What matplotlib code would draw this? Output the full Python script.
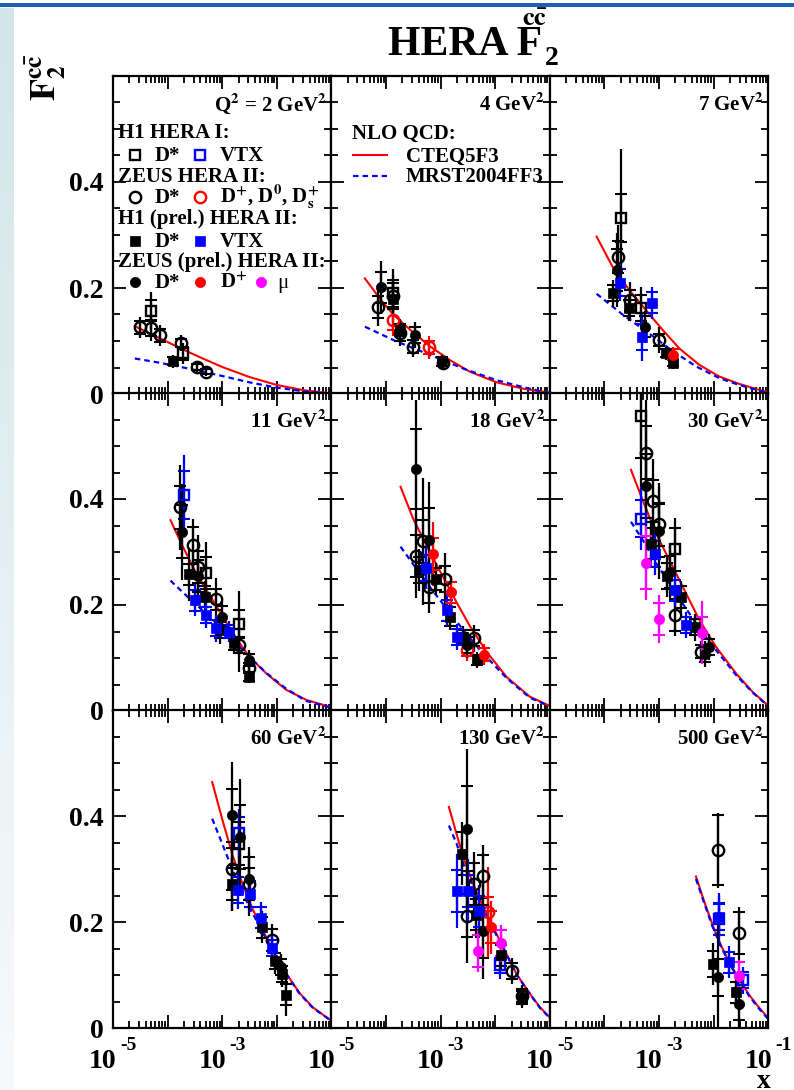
import numpy as np
import matplotlib
matplotlib.use("Agg")
import matplotlib.pyplot as plt
from matplotlib.ticker import MultipleLocator, FixedLocator, NullFormatter, FixedFormatter
from matplotlib.colors import LinearSegmentedColormap
from matplotlib.patches import Rectangle

plt.rcParams['mathtext.fontset'] = 'stix'
plt.rcParams['font.family'] = 'Liberation Serif'
plt.rcParams['font.weight'] = 'bold'

# ---------------- data ----------------
q2_bins = [2, 4, 7, 11, 18, 30, 60, 130, 500]

# H1 HERA I, D* (open black squares)
h1_dstar_q2 = [2, 2, 4, 7, 7, 11, 11, 30, 30, 60]
h1_dstar_x = [5.0e-5, 1.95e-4, 1.35e-4, 1.98e-4, 4.7e-4, 5.1e-4, 2.0e-3, 4.74e-4, 2.0e-3, 2.07e-3]
h1_dstar_f2 = [0.157, 0.077, 0.190, 0.332, 0.162, 0.260, 0.164, 0.557, 0.305, 0.348]
h1_dstar_stat = [0.020, 0.012, 0.025, 0.045, 0.025, 0.030, 0.026, 0.080, 0.040, 0.040]
h1_dstar_tot = [0.035, 0.020, 0.035, 0.130, 0.040, 0.058, 0.063, 0.150, 0.060, 0.060]

# H1 HERA I, VTX (open blue squares)
h1_vtx_q2 = [11, 30, 60, 130, 500, 500]
h1_vtx_x = [2.0e-4, 4.74e-4, 2.07e-3, 1.23e-2, 1.27e-2, 3.4e-2]
h1_vtx_f2 = [0.408, 0.363, 0.368, 0.118, 0.205, 0.090]
h1_vtx_stat = [0.045, 0.035, 0.030, 0.015, 0.030, 0.015]
h1_vtx_tot = [0.075, 0.060, 0.045, 0.025, 0.050, 0.025]

# ZEUS HERA II, D* (open black circles)
zeus_dstar_q2 = [2, 2, 2, 2, 2, 2, 4, 4, 4, 4, 4, 7, 7, 7,
                 11, 11, 11, 11, 11, 11, 18, 18, 18, 18, 18,
                 30, 30, 30, 30, 30, 60, 60, 60, 130, 130, 130, 130, 130, 500, 500]
zeus_dstar_x = [3.1e-5, 5.0e-5, 7.2e-5, 1.74e-4, 3.4e-4, 5.0e-4,
                7.2e-5, 1.35e-4, 1.8e-4, 3.1e-4, 1.1e-3,
                1.78e-4, 2.9e-4, 1.02e-3,
                1.72e-4, 2.98e-4, 3.57e-4, 7.8e-4, 2.0e-3, 3.1e-3,
                3.53e-4, 4.8e-4, 6.2e-4, 1.2e-3, 4.1e-3,
                5.8e-4, 7.9e-4, 1.01e-3, 2.0e-3, 5.9e-3,
                1.52e-3, 3.1e-3, 8.2e-3,
                2.99e-3, 4.1e-3, 6.0e-3, 2.02e-2, 3.04e-2,
                1.19e-2, 2.88e-2]
zeus_dstar_f2 = [0.126, 0.125, 0.111, 0.096, 0.051, 0.042,
                 0.164, 0.185, 0.115, 0.089, 0.058,
                 0.258, 0.177, 0.102,
                 0.384, 0.313, 0.272, 0.211, 0.124, 0.081,
                 0.293, 0.320, 0.234, 0.249, 0.137,
                 0.487, 0.396, 0.352, 0.181, 0.112,
                 0.300, 0.272, 0.166,
                 0.212, 0.272, 0.286, 0.108, 0.061,
                 0.335, 0.179]
zeus_dstar_stat = [0.012, 0.015, 0.012, 0.008, 0.006, 0.005,
                   0.020, 0.025, 0.015, 0.012, 0.006,
                   0.030, 0.020, 0.012,
                   0.040, 0.035, 0.030, 0.020, 0.015, 0.010,
                   0.040, 0.040, 0.030, 0.025, 0.015,
                   0.050, 0.040, 0.040, 0.030, 0.012,
                   0.040, 0.030, 0.020,
                   0.040, 0.040, 0.040, 0.015, 0.012,
                   0.066, 0.040]
zeus_dstar_tot = [0.020, 0.025, 0.020, 0.015, 0.010, 0.008,
                  0.035, 0.050, 0.025, 0.020, 0.010,
                  0.060, 0.035, 0.025,
                  0.080, 0.050, 0.060, 0.040, 0.050, 0.020,
                  0.080, 0.120, 0.050, 0.050, 0.025,
                  0.100, 0.080, 0.070, 0.040, 0.020,
                  0.080, 0.060, 0.030,
                  0.090, 0.060, 0.060, 0.025, 0.020,
                  0.070, 0.050]

# ZEUS HERA II, D+, D0, Ds (open red circles)
zeus_dmes_q2 = [4, 4, 18, 130]
zeus_dmes_x = [1.32e-4, 6.2e-4, 3.0e-3, 7.4e-3]
zeus_dmes_f2 = [0.140, 0.088, 0.115, 0.218]
zeus_dmes_stat = [0.020, 0.012, 0.012, 0.030]
zeus_dmes_tot = [0.030, 0.022, 0.020, 0.085]

# H1 (prel.) HERA II, D* (filled black squares)
h1p_dstar_q2 = [2, 4, 4, 7, 7, 7, 7, 11, 11, 11, 11, 11, 18, 18, 18, 18, 18,
                30, 30, 30, 30, 60, 60, 60, 60, 60, 130, 130, 130, 500, 500]
h1p_dstar_x = [1.23e-4, 1.35e-4, 1.8e-4, 1.46e-4, 2.86e-4, 1.35e-3, 1.78e-3,
               2.45e-4, 4.9e-4, 9.2e-4, 1.62e-3, 3.1e-3,
               4.07e-4, 8.2e-4, 1.51e-3, 2.6e-3, 4.57e-3,
               7.1e-4, 1.4e-3, 2.5e-3, 4.5e-3,
               1.5e-3, 5.4e-3, 9.1e-3, 1.22e-2, 1.49e-2,
               2.42e-3, 4.4e-3, 1.26e-2, 9.9e-3, 2.57e-2]
h1p_dstar_f2 = [0.062, 0.180, 0.121, 0.190, 0.162, 0.077, 0.058,
                0.258, 0.216, 0.152, 0.128, 0.065,
                0.266, 0.249, 0.178, 0.140, 0.096,
                0.316, 0.255, 0.215, 0.158,
                0.271, 0.190, 0.127, 0.102, 0.063,
                0.329, 0.214, 0.137, 0.121, 0.067]
h1p_dstar_stat = [0.008, 0.020, 0.012, 0.015, 0.015, 0.008, 0.006,
                  0.020, 0.020, 0.015, 0.012, 0.008,
                  0.025, 0.020, 0.018, 0.012, 0.010,
                  0.030, 0.025, 0.020, 0.015,
                  0.030, 0.020, 0.015, 0.015, 0.020,
                  0.040, 0.030, 0.020, 0.025, 0.020]
h1p_dstar_tot = [0.012, 0.030, 0.020, 0.025, 0.025, 0.012, 0.010,
                 0.050, 0.030, 0.025, 0.020, 0.012,
                 0.040, 0.030, 0.025, 0.020, 0.015,
                 0.045, 0.040, 0.030, 0.025,
                 0.050, 0.030, 0.025, 0.025, 0.040,
                 0.060, 0.045, 0.030, 0.040, 0.030]

# H1 (prel.) HERA II, VTX (filled blue squares)
h1p_vtx_q2 = [7, 7, 7, 11, 11, 11, 11, 18, 18, 18, 30, 30, 30,
              60, 60, 60, 60, 130, 130, 130, 500, 500]
h1p_vtx_x = [1.95e-4, 4.9e-4, 7.6e-4, 3.2e-4, 5.1e-4, 7.6e-4, 1.32e-3,
             5.5e-4, 1.29e-3, 1.96e-3, 8.6e-4, 2.0e-3, 3.1e-3,
             1.93e-3, 3.2e-3, 5.1e-3, 8.2e-3, 1.96e-3, 3.2e-3, 5.0e-3,
             1.27e-2, 1.94e-2]
h1p_vtx_f2 = [0.210, 0.108, 0.172, 0.209, 0.181, 0.156, 0.150,
              0.270, 0.190, 0.140, 0.296, 0.228, 0.162,
              0.260, 0.253, 0.208, 0.151, 0.259, 0.259, 0.220,
              0.209, 0.124]
h1p_vtx_stat = [0.025, 0.025, 0.020, 0.020, 0.015, 0.015, 0.012,
                0.025, 0.020, 0.015, 0.025, 0.020, 0.015,
                0.025, 0.025, 0.020, 0.015, 0.040, 0.030, 0.030,
                0.025, 0.020]
h1p_vtx_tot = [0.035, 0.045, 0.030, 0.030, 0.025, 0.025, 0.020,
               0.040, 0.030, 0.025, 0.040, 0.030, 0.025,
               0.035, 0.035, 0.030, 0.025, 0.070, 0.060, 0.050,
               0.040, 0.030]

# ZEUS (prel.) HERA II, D* (filled black circles)
zeusp_dstar_q2 = [4, 4, 4, 7, 7, 11, 11, 11, 11, 18, 18, 18,
                  30, 30, 30, 30, 30, 60, 60, 60, 60, 130, 130, 130, 500, 500]
zeusp_dstar_x = [7.96e-5, 3.4e-4, 1.05e-3, 1.7e-4, 5.6e-4,
                 1.8e-4, 3.57e-4, 1.0e-3, 3.1e-3,
                 3.53e-4, 6.2e-4, 3.0e-3,
                 5.8e-4, 1.0e-3, 1.58e-3, 7.0e-3, 8.1e-3,
                 1.52e-3, 2.1e-3, 3.1e-3, 1.2e-2,
                 2.99e-3, 6.0e-3, 3.04e-2, 1.19e-2, 2.88e-2]
zeusp_dstar_f2 = [0.201, 0.111, 0.061, 0.234, 0.127,
                  0.338, 0.255, 0.178, 0.096,
                  0.457, 0.323, 0.125,
                  0.425, 0.340, 0.263, 0.108, 0.121,
                  0.401, 0.360, 0.282, 0.115,
                  0.376, 0.183, 0.058, 0.096, 0.046]
zeusp_dstar_stat = [0.030, 0.015, 0.008, 0.040, 0.020,
                    0.050, 0.030, 0.020, 0.012,
                    0.075, 0.060, 0.015,
                    0.060, 0.050, 0.030, 0.015, 0.015,
                    0.050, 0.060, 0.040, 0.015,
                    0.080, 0.050, 0.012, 0.035, 0.030]
zeusp_dstar_tot = [0.050, 0.025, 0.012, 0.070, 0.030,
                   0.090, 0.050, 0.030, 0.020,
                   0.130, 0.110, 0.025,
                   0.110, 0.090, 0.050, 0.025, 0.025,
                   0.100, 0.110, 0.060, 0.025,
                   0.150, 0.090, 0.020, 0.120, 0.060]

# ZEUS (prel.) HERA II, D+ (filled red circles)
zeusp_dplus_q2 = [7, 18, 18, 18, 130]
zeusp_dplus_x = [1.78e-3, 7.3e-4, 1.58e-3, 6.2e-3, 8.3e-3]
zeusp_dplus_f2 = [0.074, 0.296, 0.224, 0.106, 0.190]
zeusp_dplus_stat = [0.010, 0.030, 0.020, 0.012, 0.030]
zeusp_dplus_tot = [0.015, 0.060, 0.030, 0.020, 0.050]

# ZEUS (prel.) HERA II, muons (filled magenta circles)
zeusp_mu_q2 = [30, 30, 30, 130, 130, 500]
zeusp_mu_x = [5.75e-4, 9.8e-4, 6.2e-3, 4.9e-3, 1.26e-2, 2.88e-2]
zeusp_mu_f2 = [0.280, 0.173, 0.148, 0.145, 0.160, 0.099]
zeusp_mu_stat = [0.050, 0.030, 0.030, 0.030, 0.025, 0.025]
zeusp_mu_tot = [0.070, 0.045, 0.060, 0.040, 0.035, 0.030]

# NLO QCD predictions, read per Q2 bin: log10(x) and F2
cteq_logx = [
    [-4.60, -4.20, -3.80, -3.40, -3.00, -2.50, -2.00, -1.50, -1.00],
    [-4.386, -4.112, -3.868, -3.50, -3.196, -2.83, -2.463, -1.974, -1.49, -1.03],
    [-4.143, -3.85, -3.544, -3.238, -2.934, -2.628, -2.262, -1.896, -1.53, -1.04],
    [-3.947, -3.721, -3.477, -3.233, -2.989, -2.744, -2.50, -2.194, -1.828, -1.462, -1.035],
    [-3.733, -3.50, -3.196, -2.95, -2.707, -2.463, -2.16, -1.79, -1.365, -1.03],
    [-3.513, -3.30, -3.055, -2.811, -2.568, -2.262, -1.956, -1.59, -1.286, -1.01],
    [-3.183, -2.989, -2.806, -2.623, -2.44, -2.256, -2.073, -1.828, -1.584, -1.34, -1.035],
    [-2.848, -2.707, -2.586, -2.403, -2.22, -2.037, -1.853, -1.61, -1.365, -1.18, -1.0],
    [-2.323, -2.17, -2.018, -1.865, -1.713, -1.53, -1.346, -1.163, -1.01],
]
cteq_f2 = [
    [0.128, 0.108, 0.088, 0.069, 0.051, 0.032, 0.017, 0.007, 0.001],
    [0.218, 0.180, 0.150, 0.116, 0.090, 0.064, 0.042, 0.022, 0.010, 0.003],
    [0.297, 0.240, 0.196, 0.158, 0.121, 0.086, 0.055, 0.033, 0.019, 0.004],
    [0.360, 0.310, 0.260, 0.219, 0.178, 0.137, 0.102, 0.071, 0.040, 0.021, 0.008],
    [0.423, 0.362, 0.300, 0.252, 0.205, 0.160, 0.112, 0.064, 0.027, 0.011],
    [0.455, 0.398, 0.335, 0.285, 0.235, 0.172, 0.121, 0.071, 0.036, 0.011],
    [0.464, 0.390, 0.325, 0.270, 0.224, 0.184, 0.147, 0.103, 0.066, 0.039, 0.016],
    [0.417, 0.366, 0.322, 0.272, 0.228, 0.190, 0.152, 0.102, 0.065, 0.039, 0.020],
    [0.286, 0.238, 0.194, 0.156, 0.124, 0.092, 0.062, 0.038, 0.020],
]
mrst_logx = [
    [-4.60, -4.20, -3.80, -3.40, -3.00, -2.50, -2.00, -1.50, -1.00],
    [-4.386, -3.806, -3.196, -2.586, -1.974, -1.49, -1.03],
    [-4.143, -3.667, -3.178, -2.75, -2.32, -1.896, -1.53, -1.04],
    [-3.947, -3.66, -3.416, -3.11, -2.806, -2.50, -2.194, -1.828, -1.462, -1.035],
    [-3.733, -3.44, -3.196, -2.89, -2.586, -2.28, -1.79, -1.365, -1.03],
    [-3.513, -3.30, -3.055, -2.811, -2.568, -2.262, -1.956, -1.59, -1.286, -1.01],
    [-3.183, -2.989, -2.806, -2.623, -2.44, -2.256, -2.073, -1.828, -1.584, -1.34, -1.035],
    [-2.848, -2.707, -2.586, -2.403, -2.22, -2.037, -1.853, -1.61, -1.365, -1.18, -1.0],
    [-2.323, -2.17, -2.018, -1.865, -1.713, -1.53, -1.346, -1.163, -1.01],
]
mrst_f2 = [
    [0.067, 0.060, 0.052, 0.043, 0.034, 0.022, 0.012, 0.005, 0.001],
    [0.127, 0.099, 0.074, 0.048, 0.026, 0.013, 0.002],
    [0.189, 0.150, 0.114, 0.081, 0.052, 0.030, 0.017, 0.003],
    [0.246, 0.218, 0.195, 0.166, 0.134, 0.102, 0.072, 0.042, 0.019, 0.007],
    [0.310, 0.268, 0.234, 0.193, 0.153, 0.115, 0.062, 0.025, 0.010],
    [0.357, 0.323, 0.279, 0.241, 0.203, 0.156, 0.115, 0.068, 0.035, 0.010],
    [0.395, 0.345, 0.297, 0.254, 0.216, 0.180, 0.145, 0.102, 0.065, 0.038, 0.016],
    [0.382, 0.348, 0.310, 0.266, 0.225, 0.187, 0.151, 0.101, 0.064, 0.038, 0.019],
    [0.281, 0.235, 0.191, 0.154, 0.122, 0.090, 0.060, 0.036, 0.018],
]

# ---------------- layout ----------------
W, H = 794, 1090
fig = plt.figure(figsize=(W / 100, H / 100), dpi=100)


def fx(px):
    return px / W


def fy(py):
    return 1 - py / H


# slide decoration: top rule and fading strip on the left
bg = fig.add_axes([0, 0, 1, 1], zorder=-10)
bg.set_xlim(0, W)
bg.set_ylim(H, 0)
bg.axis('off')
strip = LinearSegmentedColormap.from_list('strip', ['#d2e5e9', '#f6fafb'])
bg.imshow(np.linspace(0, 1, 256)[:, None], extent=(0, 14, H, 8), cmap=strip, aspect='auto')
bg.add_patch(Rectangle((0, 3), W, 4, color='#1d5fb0', lw=0))

L0 = 113.0
PW = 218.4
PH = 318.0
tops = [76.0, 393.0, 710.0]
DASH = (0, (2.5, 1.8))

series = [
    (h1_dstar_q2, h1_dstar_x, h1_dstar_f2, h1_dstar_stat, h1_dstar_tot, 's', 'black', True),
    (h1_vtx_q2, h1_vtx_x, h1_vtx_f2, h1_vtx_stat, h1_vtx_tot, 's', 'blue', True),
    (zeus_dstar_q2, zeus_dstar_x, zeus_dstar_f2, zeus_dstar_stat, zeus_dstar_tot, 'o', 'black', True),
    (zeus_dmes_q2, zeus_dmes_x, zeus_dmes_f2, zeus_dmes_stat, zeus_dmes_tot, 'o', 'red', True),
    (h1p_dstar_q2, h1p_dstar_x, h1p_dstar_f2, h1p_dstar_stat, h1p_dstar_tot, 's', 'black', False),
    (h1p_vtx_q2, h1p_vtx_x, h1p_vtx_f2, h1p_vtx_stat, h1p_vtx_tot, 's', 'blue', False),
    (zeusp_dstar_q2, zeusp_dstar_x, zeusp_dstar_f2, zeusp_dstar_stat, zeusp_dstar_tot, 'o', 'black', False),
    (zeusp_dplus_q2, zeusp_dplus_x, zeusp_dplus_f2, zeusp_dplus_stat, zeusp_dplus_tot, 'o', 'red', False),
    (zeusp_mu_q2, zeusp_mu_x, zeusp_mu_f2, zeusp_mu_stat, zeusp_mu_tot, 'o', 'magenta', False),
]


def marker_kw(mk, col, hollow):
    if hollow:
        size = 7.6 if mk == 's' else 8.2
    else:
        size = 7.4
    return dict(marker=mk, ms=size, mec=col, mfc='none' if hollow else col, mew=1.7 if hollow else 0.5)


for i, q in enumerate(q2_bins):
    r, c = divmod(i, 3)
    ax = fig.add_axes([fx(L0 + c * PW), fy(tops[r] + PH), PW / W, PH / H])
    ax.set_xscale('log')
    ax.set_xlim(1e-5, 1e-1)
    ax.set_ylim(0, 0.6)

    # theory curves
    ax.plot(10 ** np.array(cteq_logx[i]), cteq_f2[i], color='red', lw=1.5, zorder=2)
    ax.plot(10 ** np.array(mrst_logx[i]), mrst_f2[i], color='blue', lw=1.6, ls=DASH, zorder=2)

    # measurements: total error as a plain line, statistical error with caps
    for qs, xs, fs, st, tt, mk, col, hollow in series:
        sel = [k for k, v in enumerate(qs) if v == q]
        if not sel:
            continue
        xx = np.array(xs)[sel]
        ff = np.array(fs)[sel]
        ax.errorbar(xx, ff, yerr=np.array(tt)[sel], fmt='none', ecolor=col, elinewidth=1.6, capsize=0, zorder=3)
        ax.errorbar(xx, ff, yerr=np.array(st)[sel], fmt='none', ecolor=col, elinewidth=1.6,
                    capsize=4.5, capthick=1.5, zorder=3)
        ax.plot(xx, ff, ls='none', zorder=4, **marker_kw(mk, col, hollow))

    ax.yaxis.set_major_locator(FixedLocator([0, 0.2, 0.4]))
    ax.yaxis.set_minor_locator(MultipleLocator(0.05))
    ax.tick_params(which='both', direction='in', top=True, right=True, width=1.3, labelbottom=False)
    ax.tick_params(which='major', length=9.5)
    ax.tick_params(which='minor', length=5)
    ax.xaxis.set_minor_formatter(NullFormatter())
    if c == 0:
        ax.yaxis.set_major_formatter(FixedFormatter(['0', '0.2', '0.4']))
        ax.tick_params(axis='y', labelsize=20, pad=7)
    else:
        ax.tick_params(axis='y', labelleft=False)
    for sp in ax.spines.values():
        sp.set_linewidth(1.6)

    # Q2 label
    if i == 0:
        lab = r'Q$^{\mathbf{2}}$ = 2 GeV$^{\mathbf{2}}$'
    else:
        lab = r'%d GeV$^{\mathbf{2}}$' % q
    fig.text(fx(L0 + (c + 1) * PW - 5), fy(tops[r] + 35), lab, ha='right', va='baseline',
             fontsize=15, fontweight='bold')

# x tick labels along the bottom row; neighbouring panels share the 10^-1 / 10^-5 base
for c in range(3):
    for d in (-5, -3, -1):
        tx = L0 + c * PW + (d + 5) * PW / 4
        if not (d == -5 and c > 0):
            fig.text(fx(tx - 10), fy(1062), '10', ha='center', va='center', fontsize=20, fontweight='bold')
        if not (d == -1 and c < 2):
            fig.text(fx(tx + 7), fy(1045), '-%d' % abs(d), ha='left', va='center', fontsize=14,
                     fontweight='bold')

fig.text(fx(764), fy(1081), 'x', ha='center', va='center', fontsize=20, fontweight='bold')
fig.text(fx(46), fy(54), r'$\mathbf{F_2^{c\bar{c}}}$', rotation=90, ha='center', va='top', fontsize=26)

# title: HERA F with subscript 2 and superscript c cbar
fig.text(fx(388), fy(55), 'HERA F', ha='left', va='baseline', fontsize=30, fontweight='bold')
fig.text(fx(545), fy(65), '2', ha='left', va='baseline', fontsize=20, fontweight='bold')
fig.text(fx(522), fy(26), r'$\mathbf{c\bar{c}}$', ha='left', va='baseline', fontsize=19)

# legend overlay
ov = fig.add_axes([0, 0, 1, 1], zorder=20)
ov.set_xlim(0, W)
ov.set_ylim(H, 0)
ov.axis('off')

legend_rows = [
    ('H1 HERA I:', 138, [('s', 'black', True, 155, 'D*'), ('s', 'blue', True, 155, 'VTX')]),
    ('ZEUS HERA II:', 182, [('o', 'black', True, 197, 'D*'),
                            ('o', 'red', True, 197, r'D$^{\mathbf{+}}$, D$^{\mathbf{0}}$, D$_{\mathbf{s}}^{\mathbf{+}}$')]),
    ('H1 (prel.) HERA II:', 224, [('s', 'black', False, 241, 'D*'), ('s', 'blue', False, 241, 'VTX')]),
    ('ZEUS (prel.) HERA II:', 267, [('o', 'black', False, 282, 'D*'), ('o', 'red', False, 282, r'D$^{\mathbf{+}}$')]),
]
for head, yb, items in legend_rows:
    fig.text(fx(118), fy(yb), head, ha='left', va='baseline', fontsize=15, fontweight='bold')
    for (mk, col, hollow, ym, txt), xm in zip(items, (135, 200)):
        ov.plot([xm], [ym], ls='none', **marker_kw(mk, col, hollow))
        fig.text(fx(xm + 20), fy(ym + 6), txt, ha='left', va='baseline', fontsize=15, fontweight='bold')
ov.plot([261], [282], ls='none', **marker_kw('o', 'magenta', False))
fig.text(fx(277), fy(288), 'μ', ha='left', va='baseline', fontsize=15, fontweight='normal')

fig.text(fx(352), fy(139), 'NLO QCD:', ha='left', va='baseline', fontsize=15, fontweight='bold')
ov.plot([353, 387], [155, 155], color='red', lw=1.5)
fig.text(fx(406), fy(162), 'CTEQ5F3', ha='left', va='baseline', fontsize=15, fontweight='bold')
ov.plot([353, 387], [176, 176], color='blue', lw=1.6, ls=DASH)
fig.text(fx(406), fy(182), 'MRST2004FF3', ha='left', va='baseline', fontsize=15, fontweight='bold')

fig.savefig('out.png', dpi=100)
